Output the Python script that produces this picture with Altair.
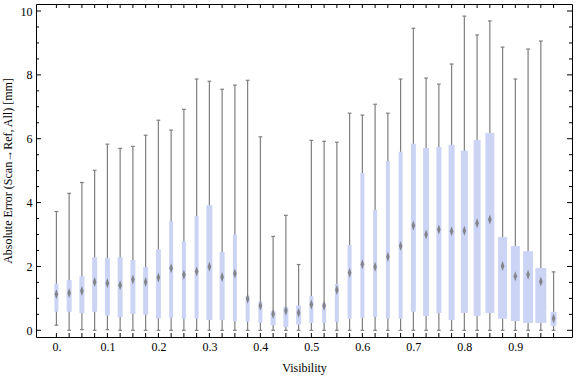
import altair as alt
import pandas as pd

# Box positions (visibility bins)
vis = [0.0, 0.025, 0.05, 0.075, 0.1, 0.125, 0.15, 0.175, 0.2, 0.225,
       0.25, 0.275, 0.3, 0.325, 0.35, 0.375, 0.4, 0.425, 0.45, 0.475,
       0.5, 0.525, 0.55, 0.575, 0.6, 0.625, 0.65, 0.675, 0.7, 0.725,
       0.75, 0.775, 0.8, 0.825, 0.85, 0.875, 0.9, 0.925, 0.95, 0.975]
wmin = [0.16, 0.0, 0.02, 0.0, 0.02, 0.0, 0.0, 0.0, 0.0, 0.0,
        0.0, 0.0, 0.0, 0.0, 0.0, 0.0, 0.0, 0.0, 0.0, 0.0,
        0.0, 0.0, 0.0, 0.0, 0.0, 0.0, 0.0, 0.0, 0.0, 0.0,
        0.0, 0.0, 0.0, 0.0, 0.0, 0.0, 0.0, 0.0, 0.0, 0.0]
q1 = [0.58, 0.58, 0.54, 0.58, 0.46, 0.42, 0.51, 0.49, 0.37, 0.39,
      0.36, 0.36, 0.32, 0.32, 0.29, 0.27, 0.23, 0.16, 0.10, 0.18,
      0.23, 0.23, 0.26, 0.36, 0.39, 0.42, 0.36, 0.36, 0.58, 0.45,
      0.54, 0.32, 0.54, 0.45, 0.54, 0.36, 0.29, 0.23, 0.23, 0.14]
med = [1.13, 1.17, 1.23, 1.51, 1.47, 1.41, 1.59, 1.51, 1.65, 1.94,
       1.74, 1.84, 1.99, 1.67, 1.78, 0.99, 0.77, 0.51, 0.61, 0.55,
       0.81, 0.77, 1.26, 1.80, 2.07, 1.99, 2.30, 2.64, 3.28, 3.00,
       3.16, 3.10, 3.12, 3.35, 3.47, 2.01, 1.69, 1.74, 1.53, 0.37]
q3 = [1.46, 1.57, 1.69, 2.29, 2.26, 2.29, 2.20, 1.98, 2.54, 3.42,
      2.79, 3.58, 3.92, 2.45, 3.00, 1.07, 0.91, 0.60, 0.73, 0.78,
      1.07, 0.85, 1.45, 2.67, 4.93, 3.77, 5.30, 5.59, 5.84, 5.71,
      5.74, 5.81, 5.62, 5.96, 6.18, 2.92, 2.64, 2.48, 1.95, 0.58]
wmax = [3.72, 4.29, 4.63, 5.01, 5.83, 5.70, 5.76, 6.11, 6.58, 6.27,
        6.92, 7.87, 7.80, 7.55, 7.68, 7.83, 6.06, 2.94, 3.60, 2.06,
        5.95, 5.92, 5.89, 6.80, 6.74, 7.08, 6.80, 7.87, 9.46, 7.90,
        7.71, 8.34, 9.84, 9.25, 9.69, 8.87, 7.87, 8.81, 9.06, 1.83]
# relative box widths (sample-weight, drawn as pixel width)
bw = [4, 5, 5, 5, 5, 5, 5, 5, 5, 4,
      4, 4, 6, 5, 4, 4, 4, 5, 5, 5,
      4, 4, 4, 4, 4, 4, 4, 4, 5, 6,
      5, 6, 7, 7, 9, 9, 9, 10, 11, 6]

x_labels = [0.0, 0.1, 0.2, 0.3, 0.4, 0.5, 0.6, 0.7, 0.8, 0.9]
y_labels = [0, 2, 4, 6, 8, 10]
y_major = [0, 2, 4, 6, 8, 10]
y_minor = [0.5, 1, 1.5, 2.5, 3, 3.5, 4.5, 5, 5.5, 6.5, 7, 7.5,
           8.5, 9, 9.5]

W, H = 536, 333
FONT = "Liberation Serif"

df = pd.DataFrame({"vis": vis, "wmin": wmin, "q1": q1, "med": med,
                   "q3": q3, "wmax": wmax, "bw": bw})

xs = alt.Scale(domain=[-0.0302, 1.0013], nice=False, zero=False)
ys = alt.Scale(domain=[-0.21, 10.22], nice=False, zero=False)

x_axis = alt.Axis(values=x_labels, ticks=False, domain=False, grid=False,
                  labelExpr="datum.value == 0 ? '0.' : format(datum.value, '.1f')",
                  labelFont=FONT, labelFontSize=12, labelColor="black",
                  labelPadding=4, title="Visibility", titleFont=FONT,
                  titleFontSize=12, titleFontWeight="normal", titleColor="black",
                  titlePadding=10)
y_axis = alt.Axis(values=y_labels, ticks=False, domain=False, grid=False,
                  labelFont=FONT, labelFontSize=12, labelColor="black",
                  labelPadding=4, title="Absolute Error (Scan→Ref, All) [mm]",
                  titleFont=FONT, titleFontSize=12, titleFontWeight="normal",
                  titleColor="black", titlePadding=6)


def X(f):
    return alt.X(f, scale=xs, axis=x_axis)


def Y(f):
    return alt.Y(f, scale=ys, axis=y_axis)


base = alt.Chart(df)
GRAY = "#7f7f7f"

whisk = base.mark_rule(color=GRAY, strokeWidth=1.2).encode(
    x=X("vis:Q"), y=Y("wmin:Q"), y2="wmax:Q")
cap_shape = "M-1,0L1,0"
cap_lo = base.mark_point(shape=cap_shape, size=14, color=GRAY,
                         strokeWidth=1.2, opacity=1).encode(
    x=X("vis:Q"), y=Y("wmin:Q"))
cap_hi = base.mark_point(shape=cap_shape, size=14, color=GRAY,
                         strokeWidth=1.2, opacity=1).encode(
    x=X("vis:Q"), y=Y("wmax:Q"))
box = base.mark_bar(color="#ccd4f5", opacity=1).encode(
    x=X("vis:Q"), y=Y("q1:Q"), y2="q3:Q",
    size=alt.Size("bw:Q", scale=None, legend=None))
diamond = base.mark_point(shape="M0,-1L0.36,0L0,1L-0.36,0Z", filled=True,
                          size=100, color="#707070", opacity=0.8).encode(
    x=X("vis:Q"), y=Y("med:Q"))

xt = pd.DataFrame({"vis": vis})
ymaj = pd.DataFrame({"v": y_major})
ymin = pd.DataFrame({"v": y_minor})

tick_bottom = alt.Chart(xt).mark_rule(color="black", strokeWidth=1).encode(
    x=X("vis:Q"), y=alt.value(H), y2=alt.value(H - 4))
tick_top = alt.Chart(xt).mark_rule(color="black", strokeWidth=1).encode(
    x=X("vis:Q"), y=alt.value(0), y2=alt.value(4))
tl_maj = alt.Chart(ymaj).mark_rule(color="black", strokeWidth=1).encode(
    y=Y("v:Q"), x=alt.value(0), x2=alt.value(5))
tr_maj = alt.Chart(ymaj).mark_rule(color="black", strokeWidth=1).encode(
    y=Y("v:Q"), x=alt.value(W), x2=alt.value(W - 5))
tl_min = alt.Chart(ymin).mark_rule(color="black", strokeWidth=1).encode(
    y=Y("v:Q"), x=alt.value(0), x2=alt.value(3))
tr_min = alt.Chart(ymin).mark_rule(color="black", strokeWidth=1).encode(
    y=Y("v:Q"), x=alt.value(W), x2=alt.value(W - 3))

chart = alt.layer(
    whisk, cap_lo, cap_hi, box, diamond,
    tick_bottom, tick_top, tl_maj, tr_maj, tl_min, tr_min,
).properties(
    width=W, height=H,
    autosize=alt.AutoSizeParams(type="none"),
    padding={"left": 36, "top": 4, "right": 4, "bottom": 40},
    background="white",
).configure_view(stroke="black", strokeWidth=1)

chart.save("out.html", embed_options={"renderer": "svg", "actions": False})
